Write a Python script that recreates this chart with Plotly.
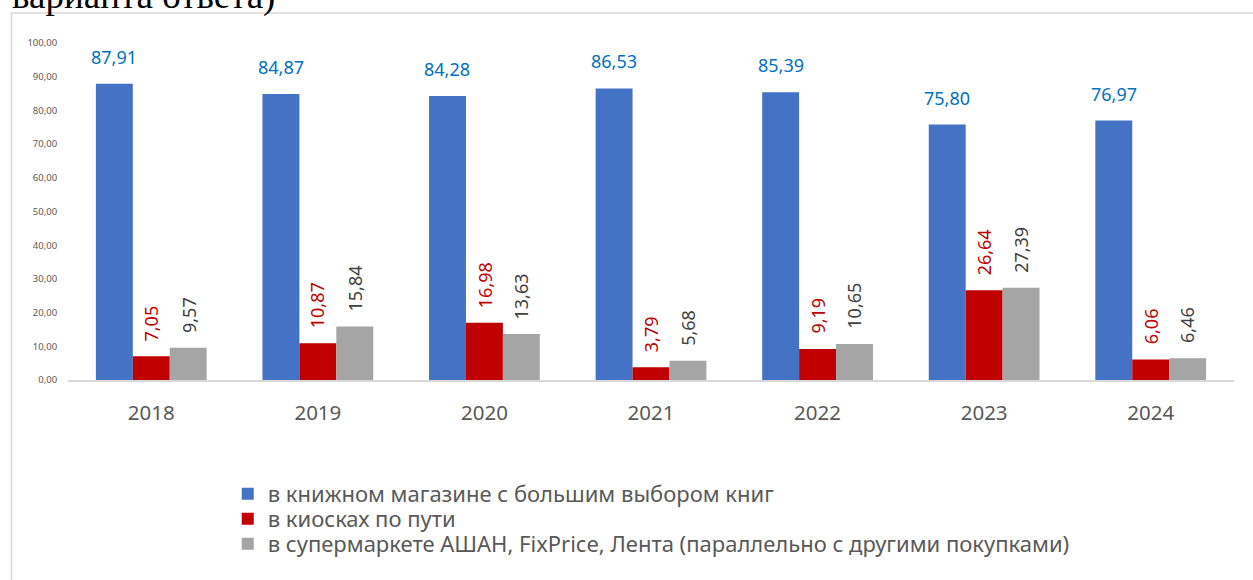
import plotly.graph_objects as go

years = ["2018", "2019", "2020", "2021", "2022", "2023", "2024"]
bookstore = [87.91, 84.87, 84.28, 86.53, 85.39, 75.80, 76.97]
kiosks = [7.05, 10.87, 16.98, 3.79, 9.19, 26.64, 6.06]
supermarket = [9.57, 15.84, 13.63, 5.68, 10.65, 27.39, 6.46]
names = [
    "в книжном магазине с большим выбором книг",
    "в киосках по пути",
    "в супермаркете АШАН, FixPrice, Лента (параллельно с другими покупками)",
]
y_ticks = [0, 10, 20, 30, 40, 50, 60, 70, 80, 90, 100]

bar_colors = ["#4472C4", "#C00000", "#A5A5A5"]
label_colors = ["#0070C0", "#C00000", "#404040"]
FONT = "Noto Sans"

fig = go.Figure()
series = [bookstore, kiosks, supermarket]
legend_ids = ["legend2", "legend3", "legend4"]
for vals, name, col, lg in zip(series, names, bar_colors, legend_ids):
    fig.add_trace(go.Bar(x=years, y=vals, name=name, legend=lg, showlegend=True,
                         marker=dict(color=col, line=dict(width=0))))

def fmt(v):
    return f"{v:.2f}".replace(".", ",")

annotations = []
offsets = [-37, 0, 37]
for i, vals in enumerate(series):
    for k, v in enumerate(vals):
        a = dict(x=k, y=v, xref="x", yref="y", text=fmt(v), showarrow=False,
                 xshift=offsets[i], yanchor="bottom", yshift=13,
                 font=dict(family=FONT, size=18, color=label_colors[i]))
        if i > 0:
            a["textangle"] = -90
        annotations.append(a)

annotations.append(dict(x=-0.05, y=1.071, xref="paper", yref="paper", text="варианта ответа)",
                        showarrow=False, xanchor="left", yanchor="bottom",
                        font=dict(family="Liberation Serif", size=37, color="#000000")))

leg_common = dict(x=0.137, xanchor="left", yanchor="middle", orientation="v",
                  bgcolor="rgba(0,0,0,0)", visible=True,
                  font=dict(family=FONT, size=22, color="#595959"))

fig.update_layout(
    width=1253, height=580,
    margin=dict(l=68, r=19, t=43, b=200),
    barmode="group", bargap=0.335, bargroupgap=0,
    paper_bgcolor="white", plot_bgcolor="white",
    separators=", ",
    showlegend=True,
    font=dict(family=FONT, color="#595959"),
    xaxis=dict(type="category", range=[-0.5, 6.5], showgrid=False, showline=True,
               linecolor="#D9D9D9", linewidth=1.5,
               ticks="outside", ticklen=14, tickcolor="rgba(0,0,0,0)",
               tickfont=dict(family=FONT, size=20.5, color="#595959")),
    yaxis=dict(range=[0, 100], tickvals=y_ticks, tickformat=".2f", showgrid=False,
               showline=False, zeroline=False, ticks="outside", ticklen=8,
               tickcolor="rgba(0,0,0,0)",
               tickfont=dict(family=FONT, size=9.5, color="#595959")),
    legend2=dict(y=-0.338, **leg_common),
    legend3=dict(y=-0.4125, **leg_common),
    legend4=dict(y=-0.4866, **leg_common),
    annotations=annotations,
    shapes=[dict(type="rect", xref="paper", yref="paper", x0=-0.0485, x1=1.03, y0=-0.7, y1=1.089,
                 line=dict(color="#D9D9D9", width=1.5), fillcolor="rgba(0,0,0,0)", layer="below")],
)

fig.write_html("out.html", config={"displayModeBar": False},
               post_script="document.body.style.margin='0px';")
